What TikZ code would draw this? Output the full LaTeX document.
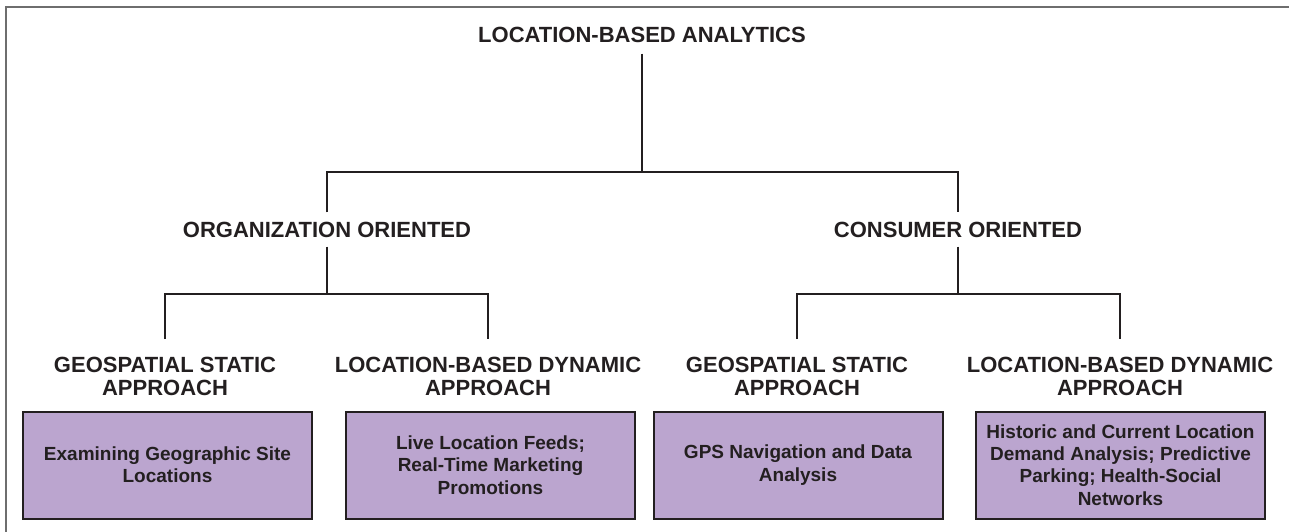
\documentclass[tikz,border=0pt]{standalone}
\usepackage{fontspec}
\setmainfont{Liberation Sans}
\usetikzlibrary{positioning}
\definecolor{ink}{RGB}{35,31,32}
\definecolor{leaffill}{RGB}{187,165,207}
\definecolor{framegray}{RGB}{110,110,110}
\begin{document}
\begin{tikzpicture}[
  x=1pt,y=-1pt,
  hdr/.style={font=\fontsize{22}{23}\selectfont\bfseries,text=ink,inner xsep=0pt},
  lvl/.style={hdr,text height=16pt,text depth=0pt,inner ysep=9pt},
  branch/.style={hdr,align=center,anchor=north,inner ysep=18pt},
  leaf/.style={rectangle,draw=ink,line width=2pt,fill=leaffill,minimum width=289pt,
    minimum height=107pt,align=center,text=ink,font=\fontsize{19}{22.3}\selectfont\bfseries},
  conn/.style={ink,line width=2.4pt},
  frame/.style={framegray,line width=2pt}
]
\useasboundingbox (0,0) rectangle (1289,532);
\draw[frame] (6,532) -- (6,7) -- (1289,7);
% levels
\node[lvl,inner ysep=11pt] (lba) at (642,34.5) {LOCATION-BASED ANALYTICS};
\node[lvl] (org) at (327,229.5) {ORGANIZATION ORIENTED};
\node[lvl] (con) at (958,229.5) {CONSUMER ORIENTED};
\node[branch] (orgstat) at (165,339)  {GEOSPATIAL STATIC\\APPROACH};
\node[branch] (orgdyn)  at (488,339)  {LOCATION-BASED DYNAMIC\\APPROACH};
\node[branch] (constat) at (797,339)  {GEOSPATIAL STATIC\\APPROACH};
\node[branch] (condyn)  at (1120,339) {LOCATION-BASED DYNAMIC\\APPROACH};
% leaves
\node[leaf] (site)  at (167.5,465)  {Examining Geographic Site\\Locations};
\node[leaf] (feeds) at (490.5,465)  {Live Location Feeds;\\Real-Time Marketing\\Promotions};
\node[leaf] (gps)   at (798,465)    {GPS Navigation and Data\\Analysis};
\node[leaf] (hist)  at (1120.5,465) {Historic and Current Location\\Demand Analysis; Predictive\\Parking; Health-Social\\Networks};
% connectors
\coordinate (j0) at (642,172); \coordinate (j1) at (327,294); \coordinate (j2) at (958,294);
\draw[conn] (lba.south) -- (j0); \draw[conn] (org.north) |- (j0) -| (con.north);
\draw[conn] (org.south) -- (j1); \draw[conn] (orgstat.north) |- (j1) -| (orgdyn.north);
\draw[conn] (con.south) -- (j2); \draw[conn] (constat.north) |- (j2) -| (condyn.north);
\end{tikzpicture}
\end{document}
